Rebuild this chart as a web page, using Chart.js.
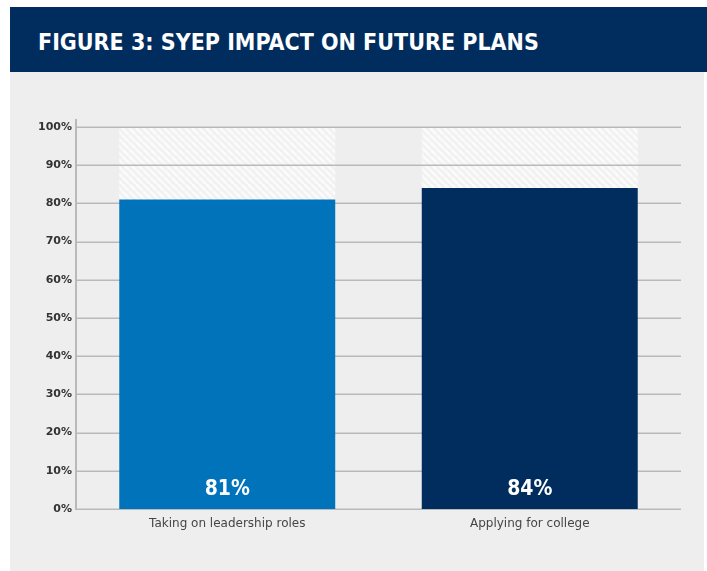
<!DOCTYPE html>
<html><head><meta charset="utf-8">
<script src="https://cdn.jsdelivr.net/npm/chart.js@4"></script>
<style>
body{margin:0;background:#fff;width:707px;height:571px;overflow:hidden;position:relative}
#hdr{position:absolute;left:10px;top:7px;width:697px;height:65px;background:#002d5e}
#hdr h1{margin:0;position:absolute;left:28px;top:24px;line-height:23px;color:#fff;font-weight:bold;font-size:23px;font-family:"DejaVu Sans Condensed","DejaVu Sans",sans-serif;white-space:nowrap}
#panel{position:absolute;left:10px;top:72px;width:694px;height:499px;background:#eeeeee}
#wrap{position:absolute;left:10px;top:72px;width:694px;height:499px}
</style></head>
<body>
<div id="hdr"><h1>FIGURE 3: SYEP IMPACT ON FUTURE PLANS</h1></div>
<div id="panel"></div>
<div id="wrap"><canvas id="c" width="694" height="499"></canvas></div>
<script>
const categories = ['Taking on leadership roles', 'Applying for college'];
const values = [81, 84];
const totals = [100, 100];
const barColors = ['#0073ba', '#002d5e'];
const tickStep = 10;

function makePattern() {
  const s = 7;
  const c = document.createElement('canvas');
  c.width = s; c.height = s;
  const g = c.getContext('2d');
  g.fillStyle = '#f1f1f1';
  g.fillRect(0, 0, s, s);
  g.strokeStyle = '#fbfbfb';
  g.lineWidth = 2.5;
  for (let o = -s; o <= s; o += s) {
    g.beginPath();
    g.moveTo(o, 0);
    g.lineTo(o + s, s);
    g.stroke();
  }
  return g.createPattern(c, 'repeat');
}

const gridPlugin = {
  id: 'gridUnderBars',
  afterDatasetDraw(chart, args) {
    if (args.index !== 1) return;
    const ctx = chart.ctx, y = chart.scales.y, a = chart.chartArea;
    ctx.save();
    ctx.strokeStyle = '#b9b9b9';
    ctx.lineWidth = 1.5;
    y.ticks.forEach(t => {
      const py = Math.round(y.getPixelForValue(t.value)) + 0.25;
      ctx.beginPath();
      ctx.moveTo(a.left, py);
      ctx.lineTo(a.right, py);
      ctx.stroke();
    });
    ctx.lineWidth = 2;
    ctx.beginPath();
    ctx.moveTo(a.left, a.top - 8);
    ctx.lineTo(a.left, a.bottom + 1);
    ctx.stroke();
    ctx.restore();
  }
};

const labelPlugin = {
  id: 'valueLabels',
  afterDatasetsDraw(chart) {
    const ctx = chart.ctx, y = chart.scales.y;
    const meta = chart.getDatasetMeta(0);
    ctx.save();
    ctx.fillStyle = '#ffffff';
    ctx.font = 'bold 21px "DejaVu Sans Condensed", "DejaVu Sans", sans-serif';
    ctx.textAlign = 'center';
    ctx.textBaseline = 'middle';
    meta.data.forEach((el, i) => {
      ctx.fillText(values[i] + '%', el.x, y.getPixelForValue(0) - 19);
    });
    ctx.restore();
  }
};

new Chart(document.getElementById('c'), {
  type: 'bar',
  data: {
    labels: categories,
    datasets: [
      { data: values, backgroundColor: barColors, order: 1, grouped: false,
        categoryPercentage: 1, barPercentage: 0.714, borderWidth: 0 },
      { data: totals, backgroundColor: makePattern(), order: 2, grouped: false,
        categoryPercentage: 1, barPercentage: 0.714, borderWidth: 0 }
    ]
  },
  options: {
    responsive: false,
    animation: false,
    layout: { padding: { left: 0, right: 23, top: 55, bottom: 0 } },
    plugins: { legend: { display: false }, tooltip: { enabled: false } },
    scales: {
      x: {
        grid: { display: false, drawTicks: false }, border: { display: false },
        ticks: { color: '#454545', padding: 8, font: { family: '"DejaVu Sans"', size: 12 } },
        afterFit(s) { s.height = 62; }
      },
      y: {
        min: 0, max: 100,
        grid: { display: false, drawTicks: false }, border: { display: false },
        ticks: { stepSize: tickStep, padding: 4, color: '#333',
          font: { family: '"DejaVu Sans"', size: 11, weight: 'bold' },
          callback: v => v + '%' },
        afterFit(s) { s.width = 66; }
      }
    }
  },
  plugins: [gridPlugin, labelPlugin]
});
</script>
</body></html>
